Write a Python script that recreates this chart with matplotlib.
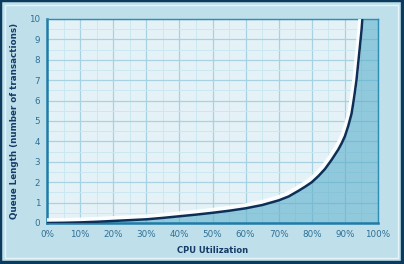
import matplotlib.pyplot as plt
from matplotlib.patches import Rectangle
from matplotlib.ticker import MultipleLocator, FuncFormatter

# values
utilization = [0, 5, 10, 15, 20, 25, 30, 35, 40, 45, 50, 55, 60, 65, 70, 73, 76, 78, 80, 82, 84,
               86, 88, 89, 90, 91, 92, 92.5, 93, 93.5, 94, 94.5, 95, 95.3]
queue_length = [0, 0.01, 0.03, 0.06, 0.1, 0.14, 0.18, 0.25, 0.33, 0.41, 0.5, 0.6, 0.72, 0.88, 1.11,
                1.3, 1.58, 1.78, 2.0, 2.3, 2.65, 3.1, 3.6, 3.9, 4.25, 4.75, 5.35, 5.85, 6.4, 7.0,
                7.8, 8.6, 9.4, 10]

x_ticks = list(range(0, 101, 10))
y_ticks = list(range(0, 11))

fig = plt.figure(figsize=(4.04, 2.64), dpi=100)
fig.patch.set_facecolor("#bfe0eb")

# outer frame: navy border, heavier on bottom/right, with lighter inner edge
fig.patches.append(Rectangle((0, 0), 1, 1, transform=fig.transFigure, fill=False,
                             edgecolor="#0d3b5e", linewidth=2.5, zorder=0))
fig.patches.append(Rectangle((0.0, 0.0), 1.0, 0.011, transform=fig.transFigure,
                             color="#0d3b5e", zorder=0))
fig.patches.append(Rectangle((0.992, 0.0), 0.008, 1.0, transform=fig.transFigure,
                             color="#0d3b5e", zorder=0))
fig.patches.append(Rectangle((0.012, 0.024), 0.972, 0.956, transform=fig.transFigure, fill=False,
                             edgecolor="#e6f4f8", linewidth=1.0, zorder=0))

ax = fig.add_axes([47 / 404, 41 / 264, 331 / 404, 204 / 264])
ax.set_facecolor("#e4f2f7")

ax.set_xlim(0, 100)
ax.set_ylim(0, 10)
ax.xaxis.set_major_locator(MultipleLocator(10))
ax.xaxis.set_minor_locator(MultipleLocator(5))
ax.yaxis.set_major_locator(MultipleLocator(1))
ax.yaxis.set_minor_locator(MultipleLocator(0.5))
ax.grid(which="major", color="#a6d2e1", linewidth=0.9, zorder=1)
ax.grid(which="minor", color="#cbe7ef", linewidth=0.7, zorder=1)
ax.set_axisbelow(True)

# filled area below the curve, full height after the curve leaves the top
fill_x = utilization + [100]
fill_y = queue_length + [10]
ax.fill_between(fill_x, fill_y, 0, color="#5aaecb", alpha=0.6, zorder=2, linewidth=0)
# soft white glow above the curve
ax.plot([u - 0.4 for u in utilization], [v + 0.1 for v in queue_length], color="white",
        linewidth=4, alpha=0.9, zorder=3, solid_capstyle="butt")
ax.plot(utilization, queue_length, color="#0c2f57", linewidth=1.8, zorder=4)

for side in ["left", "bottom", "right", "top"]:
    ax.spines[side].set_color("#2d8db3")
    ax.spines[side].set_linewidth(1.0)
ax.spines["left"].set_linewidth(1.8)
ax.spines["bottom"].set_linewidth(1.8)
ax.spines["left"].set_color("#1f7ca6")
ax.spines["bottom"].set_color("#1f7ca6")

ax.set_xticks(x_ticks)
ax.set_yticks(y_ticks)
ax.xaxis.set_major_formatter(FuncFormatter(lambda v, p: f"{int(v)}%"))
ax.tick_params(which="both", length=0, labelsize=6.3, labelcolor="#2f6f95", pad=5)

ax.set_xlabel("CPU Utilization", fontsize=6.0, fontweight="bold", color="#153b66", labelpad=5)
ax.set_ylabel("Queue Length (number of transactions)", fontsize=6.3, fontweight="bold",
              color="#153b66", labelpad=7)

fig.savefig("out.png", dpi=100, facecolor=fig.get_facecolor())
